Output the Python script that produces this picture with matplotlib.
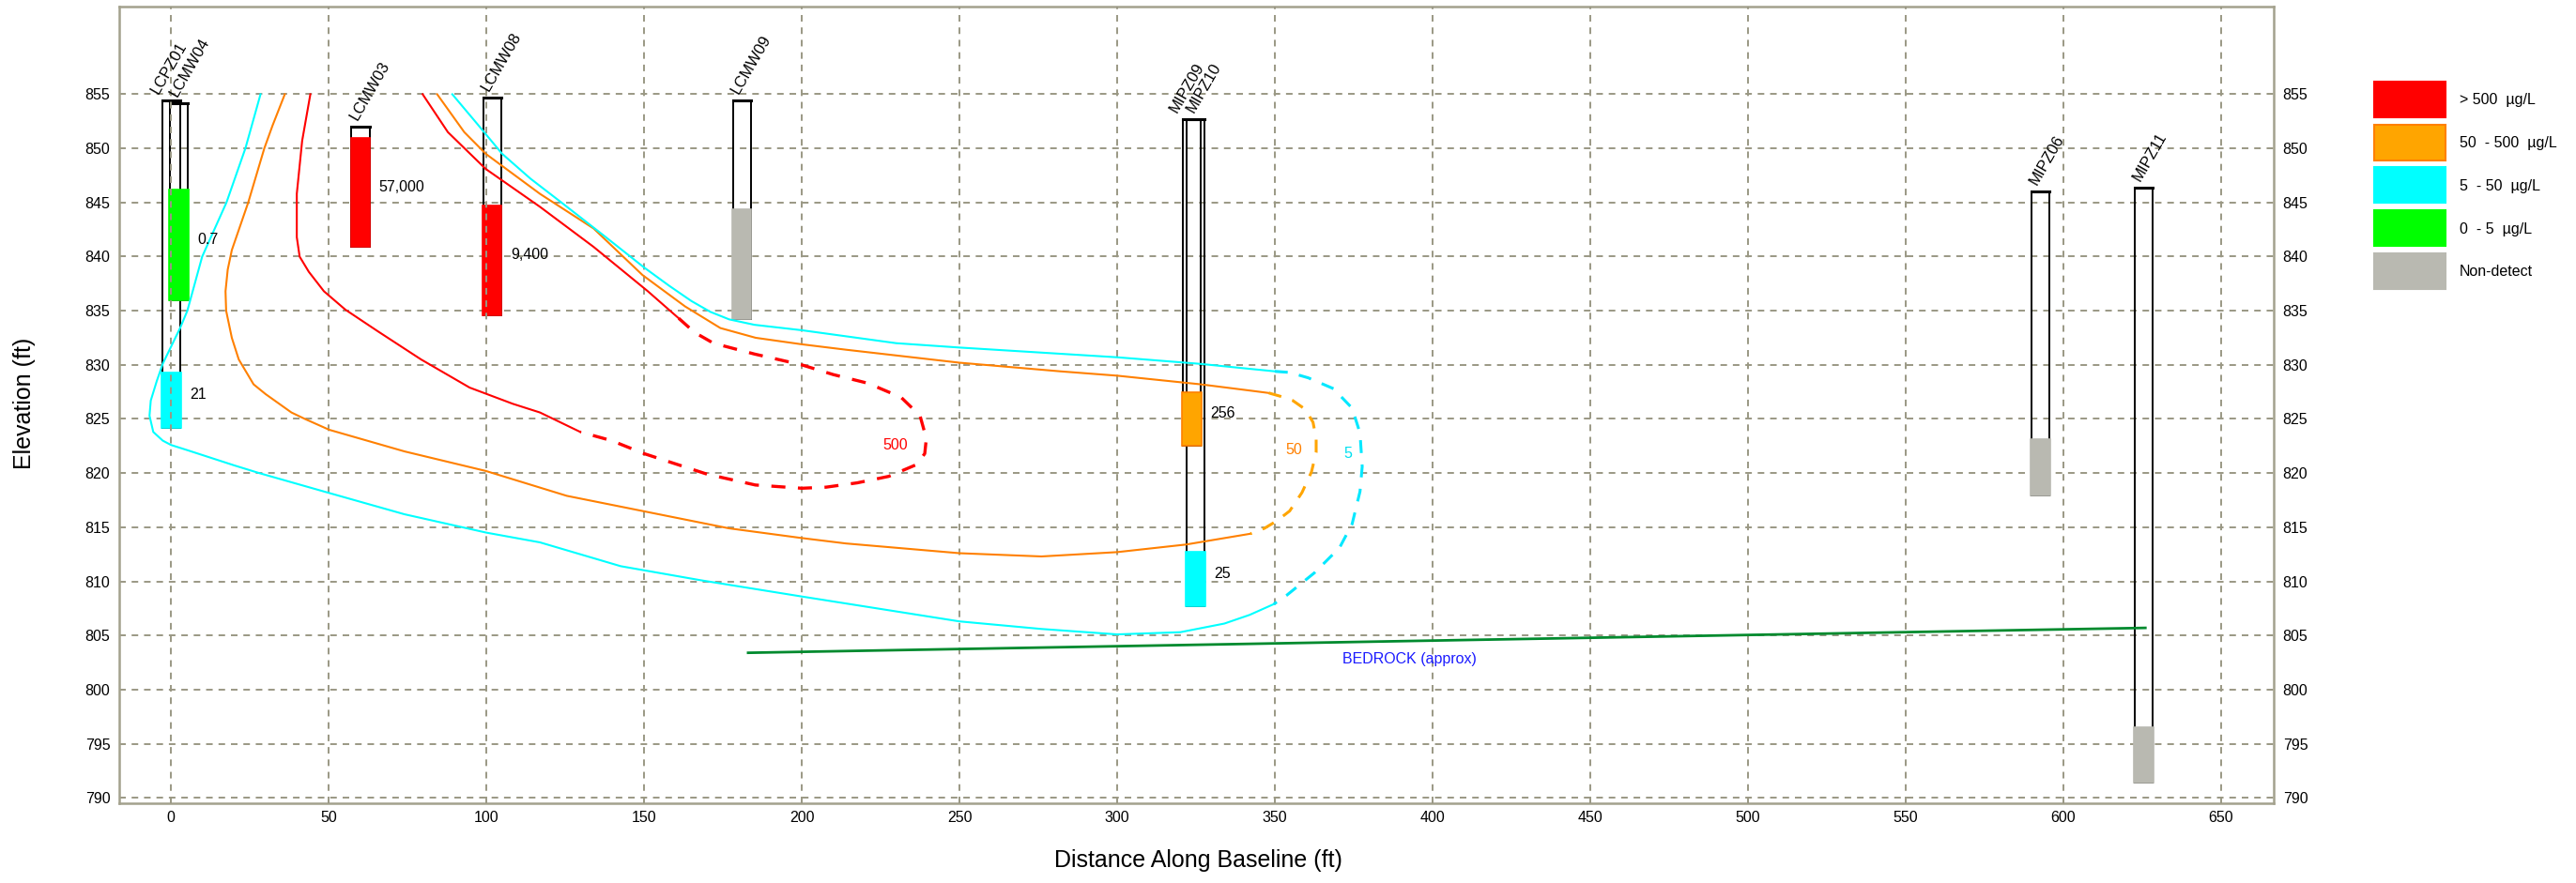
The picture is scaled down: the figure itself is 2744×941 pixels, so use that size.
import matplotlib.pyplot as plt
from matplotlib.patches import Rectangle

plt.rcParams['font.family'] = ['Liberation Sans', 'DejaVu Sans']

# --- wells (ft along baseline, elevations in ft) ---
well_names = ['LCPZ01', 'LCMW04', 'LCMW03', 'LCMW08', 'LCMW09',
              'MIPZ09', 'MIPZ10', 'MIPZ06', 'MIPZ11']
well_x = [0.15, 2.5, 60.1, 101.8, 181.0, 323.7, 324.8, 592.8, 625.5]
well_top = [854.4, 854.2, 852.0, 854.7, 854.4, 852.7, 852.7, 846.0, 846.4]
screen_top = [829.3, 846.2, 851.0, 844.7, 844.4, 827.5, 812.7, 823.1, 796.5]
screen_bot = [824.2, 836.0, 840.9, 834.6, 834.2, 822.5, 807.7, 817.9, 791.4]
screen_class = ['5-50', '0-5', '>500', '>500', 'ND', '50-500', '5-50', 'ND', 'ND']
result_text = ['21', '0.7', '57,000', '9,400', '', '256', '25', '', '']

# --- contours: 500 ug/L (red) ---
red_top_x = [79.8, 87.8, 99.8, 117, 134, 151.2, 161]
red_top_y = [855, 851.5, 848.1, 844.6, 840.9, 836.8, 834.3]
red_dash_x = [161, 166, 172, 185, 200, 210, 221, 231.5, 237.5, 239.5, 239.0,
              236.5, 227.6, 217.6, 207.7, 200, 185.3, 170, 150, 139.7, 129.8]
red_dash_y = [834.3, 833.0, 832.0, 831.0, 830.0, 829.1, 828.3, 827.0, 825.3, 823.2, 821.8,
              820.8, 819.7, 819.1, 818.7, 818.6, 818.9, 819.9, 821.8, 823.0, 823.8]
red_low_x = [129.8, 117, 108.4, 94.7, 79.3, 65.6, 55.3, 48.5, 43.7, 40.8, 39.9, 39.9, 41.6, 44.2]
red_low_y = [823.8, 825.6, 826.4, 827.9, 830.5, 833.1, 835.1, 836.8, 838.6, 840.0, 841.8, 845.8, 850.7, 855]

# --- contours: 50 ug/L (orange) ---
org_top_x = [84.4, 93, 99.8, 117, 134, 149.5, 163, 174.2, 185.4, 200, 214, 250, 282, 300,
             326.5, 342.8, 348.1]
org_top_y = [855, 851.5, 849.5, 845.8, 842.6, 838.3, 835.4, 833.4, 832.5, 831.9, 831.4, 830.2,
             829.4, 829.0, 828.2, 827.6, 827.4]
org_dash_x = [348.1, 351.7, 355.7, 359.6, 362.1, 363.1, 363.1, 361.6, 358.6, 354.7, 350.7, 346.7, 342.3]
org_dash_y = [827.4, 827.1, 826.7, 825.9, 824.7, 823.2, 821.9, 820.1, 818.2, 816.5, 815.6, 814.9, 814.4]
org_low_x = [342.3, 321.8, 300, 276, 250, 214, 200, 176.9, 151.2, 125.5, 99.8, 74.1, 50.2, 42.5,
             38.2, 30, 26.2, 21.5, 19.3, 17.5, 17.3, 18.0, 19.3, 24.5, 29.6, 32.2, 36.1]
org_low_y = [814.4, 813.4, 812.7, 812.3, 812.6, 813.5, 814.0, 814.9, 816.4, 817.9, 820.2, 822.0,
             824.0, 825.0, 825.6, 827.3, 828.2, 830.5, 832.5, 835.0, 836.8, 838.8, 840.6, 845,
             850, 852.1, 855]

# --- contours: 5 ug/L (cyan) ---
cyn_top_x = [89.2, 97, 105, 114, 123.8, 137, 150, 158, 165, 171, 177, 185, 200, 230, 250, 300, 326, 350]
cyn_top_y = [855, 852.3, 849.5, 847.2, 845, 842, 839, 837.3, 835.9, 834.9, 834.2, 833.7, 833.2,
             832.0, 831.6, 830.7, 830.1, 829.4]
cyn_dash_x = [350, 354.7, 360.6, 368.6, 374.5, 377, 377.7, 377, 374.5, 370.5, 362.6, 353.7, 349.7]
cyn_dash_y = [829.4, 829.3, 828.8, 827.8, 826, 823.7, 820.6, 818.3, 815.3, 813.1, 810.8, 808.7, 807.9]
cyn_low_x = [349.7, 342, 334, 320, 300, 276, 250, 200, 168, 142.6, 117, 100, 74, 48.5, 28, 20.2,
             5.4, 0, -2.6, -5.6, -6.8, -6.4, -4.5, -2.6, 2.9, 5.2, 9.9, 17.6, 23.6, 28.4]
cyn_low_y = [807.9, 806.9, 806.1, 805.3, 805.1, 805.6, 806.3, 808.6, 810.1, 811.4, 813.6, 814.5,
             816.2, 818.3, 820.0, 820.7, 822.1, 822.6, 823.0, 823.8, 825.3, 826.7, 828.5, 830.1,
             833.4, 835.0, 840, 845, 850, 855]

# bedrock surface
bedrock_x = [183, 626]
bedrock_y = [803.4, 805.7]

legend_labels = ['> 500  µg/L', '50  - 500  µg/L', '5  - 50  µg/L', '0  - 5  µg/L', 'Non-detect']
legend_keys = ['>500', '50-500', '5-50', '0-5', 'ND']

class_color = {'>500': '#ff0000', '50-500': '#ffa500', '5-50': '#00ffff',
               '0-5': '#00ff00', 'ND': '#b9b9b1'}
class_edge = {'>500': '#ff0000', '50-500': '#ff8000', '5-50': '#00ffff',
              '0-5': '#00ff00', 'ND': '#b9b9b1'}

W, H = 2744, 941
fig = plt.figure(figsize=(W / 100, H / 100), dpi=100)
ax = fig.add_axes([127 / W, 1 - 856 / H, (2422 - 127) / W, (856 - 7) / H])

ax.set_xlim(-16.4, 666.7)
ax.set_ylim(789.5, 863.1)
ax.set_xticks(range(0, 651, 50))
ax.set_yticks(range(790, 856, 5))

grid_col = '#9a9884'
ax.set_axisbelow(True)
ax.grid(True, color=grid_col, linestyle=(0, (3.6, 3.2)), linewidth=1.4)
ax.xaxis.set_zorder(2.6)  # vertical grid shows through the screens
for s in ax.spines.values():
    s.set_color('#a3a18d')
    s.set_linewidth(1.8)
ax.tick_params(axis='both', length=0, labelsize=11.5, colors='black')
ax.tick_params(axis='y', labelright=True, pad=7)
ax.tick_params(axis='x', pad=6)

# contours
sw = 1.5
dash = (0, (4.5, 4.0))
ax.plot(red_top_x, red_top_y, color='#ff0000', lw=sw, zorder=3)
ax.plot(red_low_x, red_low_y, color='#ff0000', lw=sw, zorder=3)
ax.plot(red_dash_x, red_dash_y, color='#ff0000', lw=2.4, ls=dash, zorder=3)
ax.plot(org_top_x, org_top_y, color='#ff8000', lw=sw, zorder=3)
ax.plot(org_low_x, org_low_y, color='#ff8000', lw=sw, zorder=3)
ax.plot(org_dash_x, org_dash_y, color='#ffa500', lw=2.2, ls=dash, zorder=3)
ax.plot(cyn_top_x, cyn_top_y, color='#00ffff', lw=sw, zorder=3)
ax.plot(cyn_low_x, cyn_low_y, color='#00ffff', lw=sw, zorder=3)
ax.plot(cyn_dash_x, cyn_dash_y, color='#00e8ff', lw=2.2, ls=dash, zorder=3)

ax.text(229.6, 822.6, '500', color='#ff0000', fontsize=11.5, ha='center', va='center', zorder=5)
ax.text(356.0, 822.1, '50', color='#ff8000', fontsize=11.5, ha='center', va='center', zorder=5)
ax.text(373.1, 821.8, '5', color='#00e0f0', fontsize=11.5, ha='center', va='center', zorder=5)

ax.plot(bedrock_x, bedrock_y, color='#008a2e', lw=2.0, zorder=3)
ax.text(392.6, 802.8, 'BEDROCK (approx)', color='#1a1aff', fontsize=11.5,
        ha='center', va='center', zorder=5)

# wells
casing_w = 5.7
screen_w = 6.1
label_nudge = {'LCPZ01': -3.0, 'LCMW04': 0.6, 'MIPZ09': -3.7, 'MIPZ10': 0.6}
for i, name in enumerate(well_names):
    x = well_x[i]
    ax.add_patch(Rectangle((x - casing_w / 2, screen_bot[i]), casing_w, well_top[i] - screen_bot[i],
                           fill=False, edgecolor='black', lw=1.4, zorder=2.2))
    ax.plot([x - casing_w / 2, x + casing_w / 2], [well_top[i], well_top[i]],
            color='black', lw=2.2, zorder=2.3)
    c = screen_class[i]
    ax.add_patch(Rectangle((x - screen_w / 2, screen_bot[i]), screen_w, screen_top[i] - screen_bot[i],
                           facecolor=class_color[c], edgecolor=class_edge[c], lw=1.2, zorder=2.4))
    lx = x - 0.3 + label_nudge.get(name, 0)
    ax.text(lx, well_top[i] + 0.4, name, rotation=60, rotation_mode='anchor',
            ha='left', va='bottom', fontsize=12, zorder=5)
    if result_text[i]:
        ax.text(x + casing_w / 2 + 3.0, (screen_top[i] + screen_bot[i]) / 2 + 0.5, result_text[i],
                fontsize=11.5, ha='left', va='center', zorder=5)

# axis titles
fig.text(26 / W, 1 - 430 / H, 'Elevation (ft)', rotation=90, fontsize=18, ha='center', va='center')
fig.text(1276 / W, 1 - 917 / H, 'Distance Along Baseline (ft)', fontsize=18, ha='center', va='center')

# legend
for k, (key, lab) in enumerate(zip(legend_keys, legend_labels)):
    y0 = 87 + k * 45.7
    fig.add_artist(Rectangle((2529 / W, 1 - (y0 + 38) / H), 76 / W, 38 / H,
                             transform=fig.transFigure, facecolor=class_color[key],
                             edgecolor=class_edge[key], lw=1.5))
    fig.text(2620 / W, 1 - (y0 + 20) / H, lab, fontsize=11.5, ha='left', va='center')

fig.savefig('out.png', dpi=100)
